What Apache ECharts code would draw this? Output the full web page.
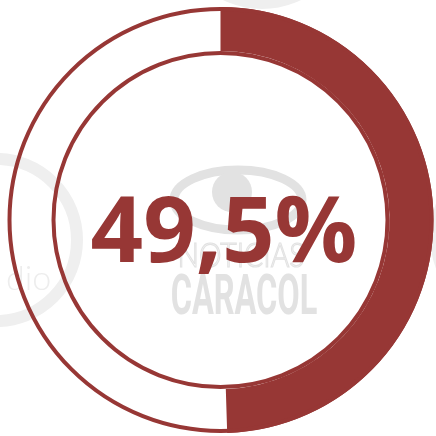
<!DOCTYPE html>
<html>
<head>
<meta charset="utf-8">
<script src="https://cdn.jsdelivr.net/npm/echarts@6/dist/echarts.min.js"></script>
<style>
  html, body { margin: 0; padding: 0; background: #ffffff; }
  #chart { width: 436px; height: 436px; }
</style>
</head>
<body>
<div id="chart"></div>
<script>
// Share shown by the gauge ring and the remainder of the circle
const sliceNames = ['Porcentaje', 'Resto'];
const sliceValues = [49.5, 50.5];

const RED = '#973735';
const WM = '#e2e2e2';

// "49,5%" written with a decimal comma
const shareText = String(sliceValues[0]).replace('.', ',') + '%';

const chart = echarts.init(document.getElementById('chart'), null, { renderer: 'canvas' });

chart.setOption({
  animation: false,
  backgroundColor: '#ffffff',
  graphic: [
    // faint logo rings around the edges
    { type: 'circle', z: 0, silent: true, shape: { cx: -4, cy: 240, r: 81 },
      style: { fill: 'none', stroke: '#efefef', lineWidth: 12 } },
    { type: 'text', z: 0, silent: true, x: 6, y: 262,
      style: { text: 'dio', font: '300 34px Lato', fill: '#ededed' } },
    { type: 'circle', z: 0, silent: true, shape: { cx: 262, cy: -80, r: 84 },
      style: { fill: 'none', stroke: '#efefef', lineWidth: 10 } },
    { type: 'circle', z: 0, silent: true, shape: { cx: 522, cy: 236, r: 86 },
      style: { fill: 'none', stroke: '#efefef', lineWidth: 12 } },
    // watermark swoosh
    { type: 'ellipse', z: 0, silent: true, shape: { cx: 238, cy: 200, rx: 64, ry: 30 },
      style: { fill: 'none', stroke: WM, lineWidth: 9 } },
    { type: 'circle', z: 0, silent: true, shape: { cx: 232, cy: 192, r: 20 },
      style: { fill: WM } },
    // watermark wordmark
    { type: 'text', z: 0, silent: true, x: 241, y: 256,
      style: { text: 'NOTICIAS', font: '300 33px Lato', fill: 'none', stroke: WM, lineWidth: 1.2,
               align: 'center', verticalAlign: 'middle' }, scaleX: 0.86 },
    { type: 'text', z: 0, silent: true, x: 244, y: 300, scaleX: 0.58,
      style: { text: 'CARACOL', font: 'bold 56px Roboto', fill: WM,
               align: 'center', verticalAlign: 'middle' } },
    // value in the middle of the ring
    { type: 'text', z: 100, silent: true, x: 224, y: 236,
      style: { text: shareText, font: 'bold 92px "Open Sans"', fill: RED,
               align: 'center', verticalAlign: 'middle' } }
  ],
  series: [
    {
      type: 'pie',
      silent: true,
      center: [220.5, 220],
      radius: [169, 213],
      startAngle: 90,
      clockwise: true,
      avoidLabelOverlap: false,
      label: { show: false },
      labelLine: { show: false },
      emphasis: { disabled: true },
      itemStyle: { borderWidth: 0 },
      data: sliceNames.map((name, i) => ({
        name: name,
        value: sliceValues[i],
        itemStyle: { color: i === 0 ? RED : 'rgba(0,0,0,0)', borderWidth: 0 }
      }))
    },
    {
      // outer and inner outline of the ring
      type: 'pie',
      silent: true,
      center: [220.5, 220],
      radius: [167, 211],
      label: { show: false },
      labelLine: { show: false },
      emphasis: { disabled: true },
      itemStyle: { color: 'rgba(0,0,0,0)', borderColor: RED, borderWidth: 4 },
      data: [{ name: 'Total', value: 1 }]
    }
  ]
});
</script>
</body>
</html>
